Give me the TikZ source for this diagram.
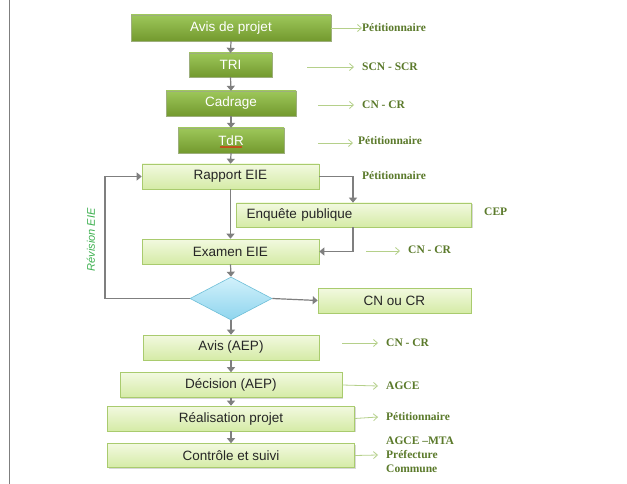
\documentclass[tikz,border=0pt]{standalone}
\usepackage{fontspec}
\setmainfont{Liberation Serif}
\setsansfont{Liberation Sans}
\usetikzlibrary{arrows.meta,shapes.geometric,shadows}
\definecolor{dgtop}{HTML}{9DC75A}
\definecolor{dgbot}{HTML}{73992E}
\definecolor{lgtop}{HTML}{F2F9E0}
\definecolor{lgbot}{HTML}{D5EBA6}
\definecolor{lgbord}{HTML}{A9CB6E}
\definecolor{garr}{HTML}{B5D08A}
\definecolor{glab}{HTML}{5B7A2B}
\definecolor{grayarr}{HTML}{7F7F7F}
\definecolor{revcol}{HTML}{3DB04F}
\definecolor{diatop}{HTML}{D2F1FB}
\definecolor{diabot}{HTML}{8FD5EE}
\definecolor{diabord}{HTML}{6EBFD8}
\tikzset{
  darkbox/.style={rectangle, draw=dgbot!80!black!60, line width=0.3pt, top color=dgtop, bottom color=dgbot,
    text=white, font=\sffamily\fontsize{13.5}{15}\selectfont, inner sep=0pt,
    drop shadow={shadow xshift=1.2pt, shadow yshift=-1.2pt, opacity=0.35}},
  lightbox/.style={rectangle, draw=lgbord, line width=0.6pt, top color=lgtop, bottom color=lgbot,
    text=black!85, font=\sffamily\fontsize{13.5}{15}\selectfont, inner sep=0pt,
    drop shadow={shadow xshift=1.2pt, shadow yshift=-1.2pt, opacity=0.3}},
  garrow/.style={draw=garr, line width=0.8pt, -{Straight Barb[length=4pt,width=7pt]}},
  flow/.style={draw=grayarr, line width=1.2pt, -{Triangle[length=5pt,width=8pt]}},
  lab/.style={anchor=west, inner sep=0pt, text=glab, font=\rmfamily\bfseries\fontsize{11.5}{13}\selectfont, align=left},
}
\begin{document}
\begin{tikzpicture}[x=1pt,y=-1pt]
\useasboundingbox[fill=white] (0,0) rectangle (627,484);
\draw[grayarr, line width=1pt] (9,0) -- (9,484);

% main boxes
\node[darkbox, minimum width=200pt, minimum height=26pt] (avis) at (231,28) {Avis de projet};
\node[darkbox, minimum width=83pt, minimum height=24pt] (tri) at (230.5,65) {TRI};
\node[darkbox, minimum width=130pt, minimum height=25pt] (cad) at (231,103.5) {Cadrage};
\node[darkbox, minimum width=106pt, minimum height=25pt] (tdr) at (231,140.5) {TdR};
\node[lightbox, minimum width=177pt, minimum height=25pt] (rap) at (230.5,176.5) {Rapport EIE};
\node[lightbox, minimum height=24pt, text width=215pt, inner xsep=10pt, align=left] (enq) at (354,215) {Enquête publique};
\node[lightbox, minimum width=177pt, minimum height=25pt] (exa) at (230.5,251.5) {Examen EIE};
\node[diamond, draw=diabord, line width=0.6pt, top color=diatop, bottom color=diabot, inner sep=0pt,
      minimum width=82pt, minimum height=43pt] (dia) at (231,298.5) {};
\node[lightbox, minimum width=153pt, minimum height=25pt] (cnou) at (394.5,300.5) {CN ou CR};
\node[lightbox, minimum width=176pt, minimum height=25pt] (aep) at (231,347.5) {Avis (AEP)};
\node[lightbox, minimum width=222pt, minimum height=25pt] (dec) at (231,385) {Décision (AEP)};
\node[lightbox, minimum width=247pt, minimum height=25pt] (rea) at (231,418.5) {Réalisation projet};
\node[lightbox, minimum width=247pt, minimum height=24pt] (ctl) at (231,455.5) {Contrôle et suivi};

% red squiggle under TdR
\draw[red, line width=0.7pt] ([xshift=-11pt,yshift=-7pt]tdr.center) \foreach \i in {1,...,11} { -- ++(1pt,1pt) -- ++(1pt,-1pt) };

% gray flow arrows
\draw[flow] (avis.south) -- (tri.north);
\draw[flow] (tri.south) -- (cad.north);
\draw[flow] (cad.south) -- (tdr.north);
\draw[flow] (tdr.south) -- (rap.north);
\draw[flow] (rap.south) -- (exa.north);
\draw[flow] (rap.east) -| ([xshift=-1pt]enq.north);
\draw[flow] ([xshift=-1pt]enq.south) |- (exa.east);
\draw[flow] (exa.south) -- (dia.north);
\draw[flow] (dia.east) -- (cnou.west);
\draw[flow] (dia.south) -- (aep.north);
\coordinate (fb) at (105,298.5);
\draw[flow] (dia.west) -- (fb) |- (rap.west);
\draw[flow] (aep.south) -- (dec.north);
\draw[flow] (dec.south) -- (rea.north);
\draw[flow] (rea.south) -- (ctl.north);

\node[rotate=90, text=revcol, font=\sffamily\itshape\fontsize{11}{12}\selectfont, inner sep=0pt] (rev) at (91,240) {Révision EIE};

% labels
\node[lab] (l1) at (362,28) {Pétitionnaire};
\node[lab] (l2) at (362,67) {SCN - SCR};
\node[lab] (l3) at (362,105) {CN - CR};
\node[lab] (l4) at (358,141) {Pétitionnaire};
\node[lab] (l5) at (362,176) {Pétitionnaire};
\node[lab] (l6) at (484,212) {CEP};
\node[lab] (l7) at (408,250) {CN - CR};
\node[lab] (l8) at (386,343) {CN - CR};
\node[lab] (l9) at (386,386) {AGCE};
\node[lab] (l10) at (386,417) {Pétitionnaire};
\node[lab, font=\rmfamily\bfseries\fontsize{11.5}{14}\selectfont] (l11) at (386,455) {AGCE –MTA\\Préfecture\\Commune};

% green arrows
\coordinate (g2) at (307,67);
\coordinate (g3) at (318,105);
\coordinate (g4) at (318,143);
\coordinate (g7) at (366,251);
\coordinate (g8) at (342,343);
\draw[garrow] (avis.east) -- (l1.west);
\draw[garrow] (g2) -- ([xshift=-8pt]l2.west);
\draw[garrow] (g3) -- ([xshift=-8pt]l3.west);
\draw[garrow] (g4) -- ([xshift=-5pt,yshift=-2pt]l4.west);
\draw[garrow] (g7) -- ([xshift=-8pt,yshift=-1pt]l7.west);
\draw[garrow] (g8) -- ([xshift=-8pt]l8.west);
\draw[garrow] (dec.east) -- ([xshift=-8pt]l9.west);
\draw[garrow] (rea.east) -- ([xshift=-8pt]l10.west);
\draw[garrow] (ctl.east) -- ([xshift=-8pt]l11.west);
\end{tikzpicture}
\end{document}
